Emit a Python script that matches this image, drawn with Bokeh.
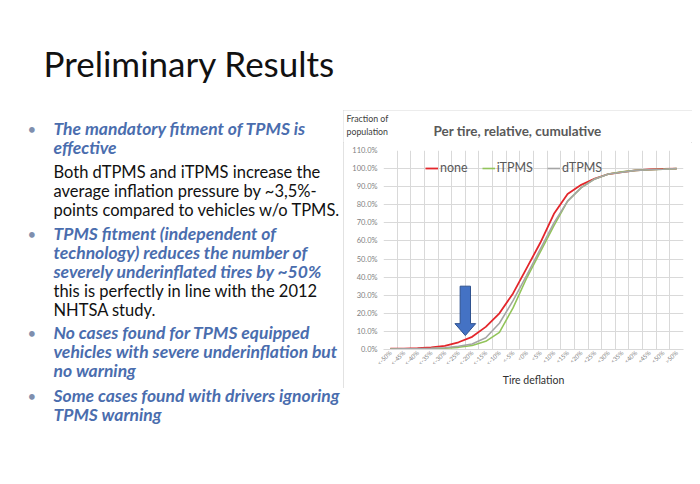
from math import pi
from bokeh.plotting import figure
from bokeh.models import Range1d, FixedTicker, PrintfTickFormatter, Legend, LegendItem, Spacer
from bokeh.layouts import column, row
from bokeh.embed import file_html
from bokeh.resources import INLINE
from bokeh.core.properties import value

# ---------------- data ----------------
categories = ["<-50%", "<-45%", "<-40%", "<-35%", "<-30%", "<-25%", "<-20%", "<-15%",
              "<-10%", "<-5%", "<0%", "<5%", "<10%", "<15%", "<20%", "<25%", "<30%",
              "<35%", "<40%", "<45%", "<50%", ">50%"]
none_vals = [0.5, 0.5, 0.7, 1.2, 2.0, 4.0, 7.0, 12.5, 20.0, 31.0, 45.0, 59.0,
             75.0, 86.0, 91.0, 94.5, 97.0, 98.0, 99.0, 99.5, 99.8, 100.0]
itpms_vals = [0.2, 0.3, 0.4, 0.5, 0.7, 1.2, 2.2, 4.5, 9.5, 23.0, 39.5, 54.0,
              68.5, 82.0, 89.5, 94.3, 97.0, 98.2, 99.0, 99.4, 99.6, 100.0]
dtpms_vals = [0.3, 0.4, 0.5, 0.7, 1.0, 1.8, 3.0, 6.5, 14.5, 27.0, 41.0, 55.5,
              70.0, 82.0, 89.5, 94.3, 97.0, 98.0, 99.0, 99.4, 99.6, 100.0]
y_ticks = [0, 10, 20, 30, 40, 50, 60, 70, 80, 90, 100, 110]

# arrow annotation (category position, top of shaft, neck, tip in %)
arrow_pos = 5.5
arrow_top, arrow_neck, arrow_tip = 35.0, 14.3, 7.7
arrow_shaft_half, arrow_head_half = 0.38, 0.76

FONT = "Lato"

slide_title = "Preliminary Results"
chart_title = "Per tire, relative, cumulative"
bullet_lines = [
    ("The mandatory fitment of TPMS is", True, True),
    ("effective", True, False),
    ("Both dTPMS and iTPMS increase the", False, False),
    ("average inflation pressure by ~3,5%-", False, False),
    ("points compared to vehicles w/o TPMS.", False, False),
    ("TPMS fitment (independent of", True, True),
    ("technology) reduces the number of", True, False),
    ("severely underinflated tires by ~50%", True, False),
    ("this is perfectly in line with the 2012", False, False),
    ("NHTSA study.", False, False),
    ("No cases found for TPMS equipped", True, True),
    ("vehicles with severe underinflation but", True, False),
    ("no warning", True, False),
    ("Some cases found with drivers ignoring", True, True),
    ("TPMS warning", True, False),
]
line_y = [128, 147, 171, 190, 209, 233, 252, 271, 290, 309, 332, 351, 370, 395, 414]


def blank_fig(w, h):
    f = figure(width=w, height=h, x_range=Range1d(0, w), y_range=Range1d(h, 0),
               output_backend="svg", toolbar_location=None, min_border=0,
               x_axis_location=None, y_axis_location=None)
    f.grid.visible = False
    f.outline_line_color = None
    return f


# ---------------- left: slide title + bullets ----------------
lf = blank_fig(343, 484)
lf.text(x=[43], y=[62], text=[slide_title], text_font=value(FONT), text_font_size="35px",
        text_baseline="middle", text_color="#111111")
BLUE = "#4A6DAE"
for (txt, blue, bullet), yy in zip(bullet_lines, line_y):
    lf.text(x=[53], y=[yy], text=[txt], text_font=value(FONT),
            text_font_size="17.5px" if blue else "16.5px",
            text_font_style="bold italic" if blue else "normal",
            text_baseline="middle", text_color=BLUE if blue else "#111111")
    if bullet:
        lf.text(x=[27], y=[yy], text=["•"], text_font=value(FONT), text_font_size="15px",
                text_baseline="middle", text_color="#7f8fae")

# ---------------- chart header (titles above plot area) ----------------
hf = blank_fig(349, 32)
hf.text(x=[3, 3], y=[8, 21], text=["Fraction of", "population"], text_font=value(FONT),
        text_font_size="8.8px", text_baseline="middle", text_color="#404040")
hf.text(x=[174], y=[20], text=[chart_title], text_font=value(FONT), text_font_size="13.5px",
        text_font_style="bold", text_align="center", text_baseline="middle",
        text_color="#595959")

# ---------------- chart figure ----------------
x = list(range(len(categories)))
p = figure(width=349, height=246, x_range=Range1d(-0.5, 21.5), y_range=Range1d(0, 110),
           output_backend="svg", toolbar_location=None,
           min_border_left=40, min_border_right=9, min_border_top=8, min_border_bottom=39)
p.outline_line_color = None

p.xgrid.ticker = FixedTicker(ticks=[i - 0.5 for i in range(len(categories) + 1)])
p.ygrid.ticker = FixedTicker(ticks=y_ticks)
p.grid.grid_line_color = "#d9d9d9"
p.grid.grid_line_width = 1

p.xaxis.ticker = FixedTicker(ticks=x)
p.xaxis.major_label_overrides = {i: c for i, c in enumerate(categories)}
p.xaxis.major_label_orientation = pi / 4
p.xaxis.major_label_text_font_size = "6px"
p.xaxis.major_label_text_color = "#7f7f7f"
p.xaxis.major_label_standoff = 2
p.xaxis.major_tick_line_color = None
p.xaxis.major_tick_out = 0
p.xaxis.major_tick_in = 0
p.xaxis.minor_tick_line_color = None
p.xaxis.minor_tick_out = 0
p.xaxis.axis_line_color = "#d9d9d9"
p.xaxis.axis_label = "Tire deflation"
p.xaxis.axis_label_text_font_size = "10.5px"
p.xaxis.axis_label_text_font_style = "normal"
p.xaxis.axis_label_text_color = "#303030"
p.xaxis.axis_label_standoff = 2

p.yaxis.ticker = FixedTicker(ticks=y_ticks)
p.yaxis.formatter = PrintfTickFormatter(format="%.1f%%")
p.yaxis.major_label_text_font_size = "7.5px"
p.yaxis.major_label_text_color = "#7f7f7f"
p.yaxis.axis_line_color = None
p.yaxis.major_tick_line_color = None
p.yaxis.major_tick_out = 0
p.yaxis.major_tick_in = 0
p.yaxis.minor_tick_line_color = None
p.yaxis.minor_tick_out = 0
p.yaxis.major_label_standoff = 6

for ax in (p.xaxis, p.yaxis):
    ax.major_label_text_font = FONT
    ax.axis_label_text_font = FONT

r_none = p.line(x, none_vals, line_color="#E3262B", line_width=1.8)
r_i = p.line(x, itpms_vals, line_color="#92C45A", line_width=1.6)
r_d = p.line(x, dtpms_vals, line_color="#A5A5A5", line_width=1.6)

# arrow annotation
a0 = arrow_pos
p.patch([a0 - arrow_shaft_half, a0 + arrow_shaft_half, a0 + arrow_shaft_half, a0 + arrow_head_half,
         a0, a0 - arrow_head_half, a0 - arrow_shaft_half],
        [arrow_top, arrow_top, arrow_neck, arrow_neck, arrow_tip, arrow_neck, arrow_neck],
        fill_color="#4472C4", line_color="#2F528F", line_width=1)

legend = Legend(items=[LegendItem(label="none", renderers=[r_none]),
                       LegendItem(label="iTPMS", renderers=[r_i]),
                       LegendItem(label="dTPMS", renderers=[r_d])],
                orientation="horizontal", location=(42, 174))
legend.background_fill_alpha = 0
legend.border_line_color = None
legend.label_text_font = FONT
legend.label_text_font_size = "12.5px"
legend.label_text_color = "#595959"
legend.glyph_width = 13
legend.glyph_height = 12
legend.label_height = 12
legend.label_standoff = 2
legend.spacing = 14
legend.padding = 0
legend.margin = 0
p.add_layout(legend)

chart_box = column(row(hf), p, styles={"outline": "1px solid #d9d9d9", "outline-offset": "-1px"})
layout = row(lf, column(Spacer(width=349, height=110), chart_box))
open("out.html", "w").write(file_html(layout, INLINE))
